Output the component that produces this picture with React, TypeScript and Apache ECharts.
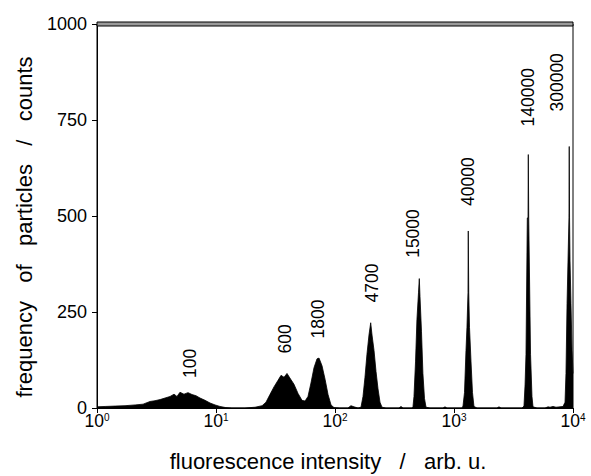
import React, { useEffect, useRef } from "react";
import * as echarts from "echarts";

// Histogram outline: fluorescence intensity (arb. u.) and counts
const intensity100 = [1.0, 1.17, 1.42, 1.72, 2.09, 2.44, 2.79, 3.07, 3.39, 3.73, 4.11, 4.44, 4.7, 4.98, 5.38, 5.82, 6.29, 6.79, 7.34, 8.09, 8.91, 9.82, 10.8, 12.1, 13.6];
const counts100 = [3, 4, 5, 6, 8, 10, 17, 19, 22, 26, 30, 36, 30, 41, 36, 40, 35, 32, 26, 20, 13, 8, 4, 1, 0];

const intensity600 = [17.5, 21.3, 24.4, 26.3, 28.4, 30.7, 33.2, 35.2, 37.3, 39.5, 41.8, 45.2, 48.9, 52.8, 56.0];
const counts600 = [0, 2, 6, 15, 35, 55, 72, 85, 80, 90, 78, 62, 38, 20, 18];

const intensity1800 = [59.3, 62.8, 66.6, 70.6, 73.4, 77.8, 82.5, 87.4, 92.6, 98.1, 110, 128.5, 136.2, 144.4, 156.1];
const counts1800 = [30, 65, 105, 128, 130, 110, 75, 35, 8, 1, 0, 0, 6, 3, 0];

const intensity4700 = [165.3, 171.9, 178.6, 185.6, 193.0, 199.5, 204.7, 212.8, 221.2, 229.8, 238.9, 248.3, 268, 345, 358.6, 372.7];
const counts4700 = [2, 30, 80, 140, 190, 222, 190, 150, 95, 50, 15, 2, 0, 0, 4, 0];

const intensity15000 = [443.6, 452, 461, 475, 488, 503, 511, 518, 533, 548, 565, 582, 628, 808, 840, 873];
const counts15000 = [0, 3, 30, 120, 230, 300, 337, 290, 200, 90, 25, 2, 0, 0, 3, 0];

const intensity40000 = [1167, 1190, 1225, 1261, 1285, 1311, 1318, 1330, 1350, 1390, 1430, 1472, 1560, 2296, 2388, 2483];
const counts40000 = [0, 5, 40, 150, 210, 300, 461, 300, 210, 120, 40, 4, 0, 0, 3, 0];

const intensity140000 = [3726, 3873, 3954, 4027, 4131, 4188, 4211, 4246, 4295, 4397, 4522, 4613, 4980, 5819, 6166, 6411, 6792, 7197, 8241];
const counts140000 = [0, 5, 60, 140, 495, 495, 660, 495, 495, 140, 30, 3, 0, 0, 3, 2, 4, 2, 4];

const intensity300000 = [8570, 8730, 8913, 9078, 9247, 9300, 9354, 9441, 9616, 9817, 10000];
const counts300000 = [15, 90, 272, 383, 495, 681, 495, 383, 272, 150, 90];

// Peak annotations (bead fluorescence equivalents) and where each label starts
const peakLabels = ["100", "600", "1800", "4700", "15000", "40000", "140000", "300000"];
const labelIntensity = [6.05, 38.0, 71.9, 204.7, 452, 1311, 4188, 7340];
const labelCounts = [78, 142, 181, 275, 391, 526, 733, 772];

const yTicks = [0, 250, 500, 750, 1000];

const FONT = "Liberation Sans, Arial, Helvetica, sans-serif";

export default function App() {
  const ref = useRef<HTMLDivElement>(null);
  useEffect(() => {
    if (!ref.current) return;
    const chart = echarts.init(ref.current, undefined, { renderer: "svg" });
    const xs = [
      ...intensity100, ...intensity600, ...intensity1800, ...intensity4700,
      ...intensity15000, ...intensity40000, ...intensity140000, ...intensity300000,
    ];
    const ys = [
      ...counts100, ...counts600, ...counts1800, ...counts4700,
      ...counts15000, ...counts40000, ...counts140000, ...counts300000,
    ];
    const hist = xs.map((x, i) => [x, ys[i]]).sort((a, b) => a[0] - b[0]);
    const labels = peakLabels.map((t, i) => ({ value: [labelIntensity[i], labelCounts[i]], name: t }));

    const left = 97, right = 18, top = 24, bottom = 68;
    chart.setOption({
      animation: false,
      backgroundColor: "#ffffff",
      textStyle: { fontFamily: FONT, color: "#000" },
      grid: {
        left, right, top, bottom,
        outerBoundsMode: "none",
        containLabel: false,
        show: true, borderColor: "#000", borderWidth: 1, backgroundColor: "transparent",
      },
      xAxis: {
        type: "log",
        logBase: 10,
        min: 1,
        max: 10000,
        name: "fluorescence intensity   /   arb. u.",
        nameLocation: "middle",
        nameGap: 42,
        nameTextStyle: { fontSize: 22, color: "#000", fontFamily: FONT, padding: [0, 14, 0, 0] },
        axisLine: { show: true, lineStyle: { color: "#000", width: 1 } },
        axisTick: { show: true, length: 5, lineStyle: { color: "#000" } },
        minorTick: { show: false },
        splitLine: { show: false },
        axisLabel: {
          margin: 4,
          color: "#000",
          formatter: (v: number) => `{b|10}{s|${Math.round(Math.log10(v))}}`,
          rich: {
            b: { fontSize: 17.5, fontFamily: FONT, color: "#000", verticalAlign: "bottom" },
            s: { fontSize: 10, fontFamily: FONT, color: "#000", verticalAlign: "top" },
          },
        },
      },
      yAxis: {
        type: "value",
        min: 0,
        max: 1000,
        interval: 250,
        name: "frequency   of   particles   /   counts",
        nameLocation: "middle",
        nameGap: 62,
        nameTextStyle: { fontSize: 22, color: "#000", fontFamily: FONT, padding: [0, 22, 0, 0] },
        axisLine: { show: true, lineStyle: { color: "#000", width: 1 } },
        axisTick: { show: true, length: 5, lineStyle: { color: "#000" } },
        splitLine: { show: false },
        axisLabel: {
          margin: 10,
          fontSize: 18,
          color: "#000",
          fontFamily: FONT,
          formatter: (v: number) => (yTicks.includes(v) ? String(v) : ""),
        },
      },
      graphic: [
        {
          type: "rect",
          shape: { x: left, y: top - 2, width: 591 - left - right, height: 4 },
          style: { fill: "#9a9a9a", stroke: "#000", lineWidth: 1 },
          z: 100,
        },
      ],
      series: [
        {
          type: "line",
          data: hist,
          showSymbol: false,
          symbol: "none",
          lineStyle: { color: "#000", width: 0.8 },
          areaStyle: { color: "#000", opacity: 1 },
          clip: true,
          z: 2,
        },
        {
          type: "scatter",
          data: labels,
          symbolSize: 0,
          silent: true,
          itemStyle: { opacity: 1, color: "#000" },
          label: {
            show: true,
            position: "inside",
            rotate: 90,
            align: "left",
            verticalAlign: "middle",
            formatter: (p: any) => p.name,
            fontSize: 17.5,
            color: "#000",
            opacity: 1,
            textBorderWidth: 0,
            fontFamily: FONT,
          },
          z: 3,
        },
      ],
    });
    return () => chart.dispose();
  }, []);
  return <div ref={ref} style={{ width: 591, height: 476, position: "absolute", left: 0, top: 0 }} />;
}
